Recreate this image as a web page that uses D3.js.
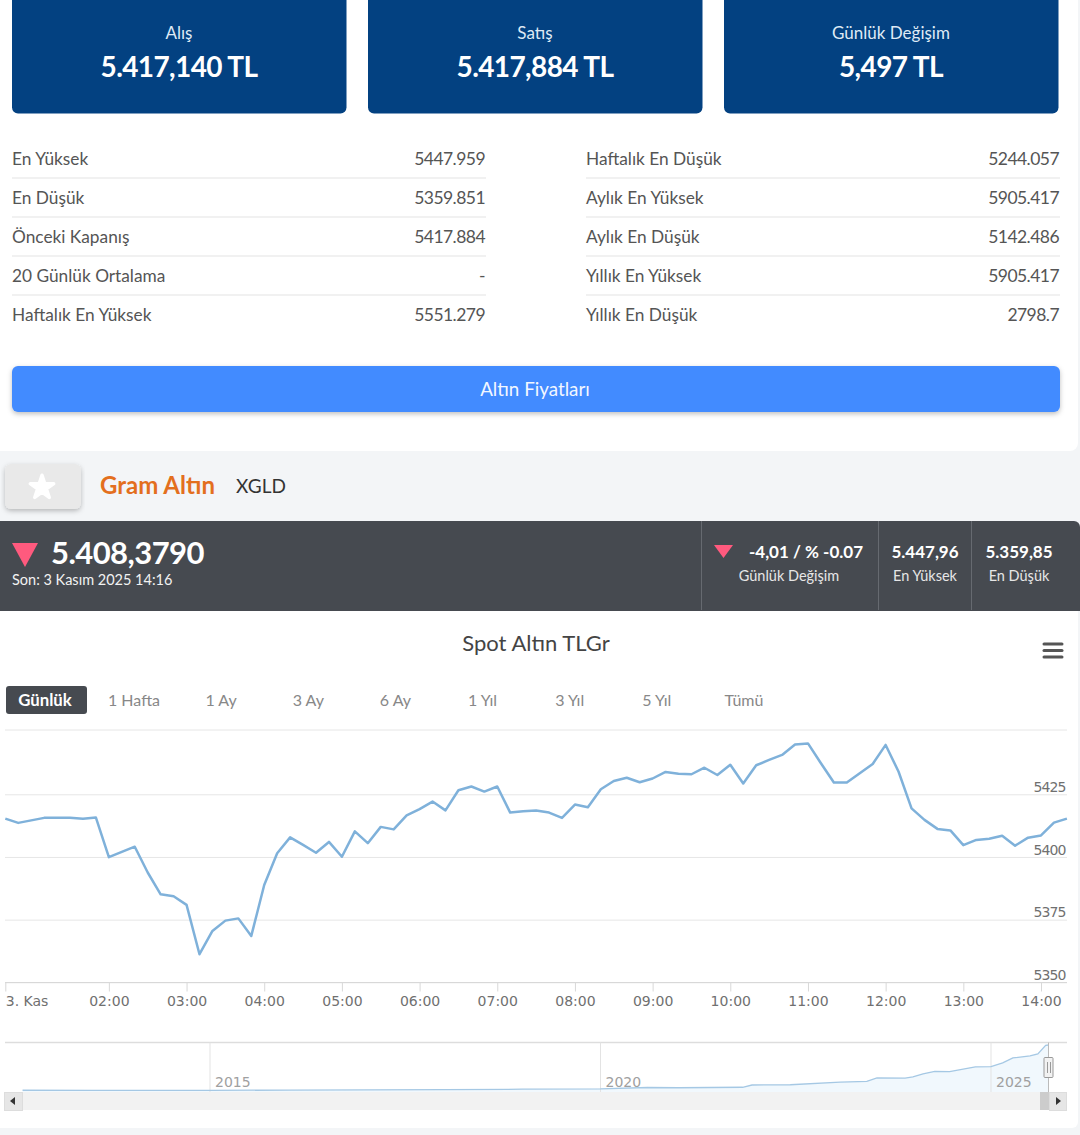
<!DOCTYPE html>
<html lang="tr">

<head>
    <meta charset="UTF-8">
    <title>Spot Altın TLGr</title>
    <script src="https://d3js.org/d3.v7.min.js"></script>
    <style>
        html, body {
            margin: 0;
            background: #f3f5f7;
        }

        svg {
            display: block;
        }

        svg text {
            font-family: Lato, sans-serif;
        }

        .axis text, text.nav-year {
            font-family: "DejaVu Sans", sans-serif;
            font-size: 14px;
            fill: #707070;
        }

        text.nav-year {
            fill: #a0a0a0;
        }

        .axis .domain {
            display: none;
        }
    </style>
</head>

<body>
    <svg width="1080" height="1135"></svg>
    <script>
        // top tiles
        const tileLabels = ['Alış', 'Satış', 'Günlük Değişim'];
        const tileValues = ['5.417,140 TL', '5.417,884 TL', '5,497 TL'];

        // stats table
        const leftNames = ['En Yüksek', 'En Düşük', 'Önceki Kapanış', '20 Günlük Ortalama', 'Haftalık En Yüksek'];
        const leftValues = ['5447.959', '5359.851', '5417.884', '-', '5551.279'];
        const rightNames = ['Haftalık En Düşük', 'Aylık En Yüksek', 'Aylık En Düşük', 'Yıllık En Yüksek', 'Yıllık En Düşük'];
        const rightValues = ['5244.057', '5905.417', '5142.486', '5905.417', '2798.7'];

        // range selector
        const rangeLabels = ['1 Hafta', '1 Ay', '3 Ay', '6 Ay', '1 Yıl', '3 Yıl', '5 Yıl', 'Tümü'];

        // main series, one reading every 10 minutes starting at 00:40
        const prices = [
            5415.3, 5413.6, 5414.6, 5415.6, 5415.6, 5415.6, 5415.2, 5415.7,
            5399.9, 5402.0, 5404.1, 5393.8, 5385.1, 5384.3, 5380.9, 5361.2,
            5370.5, 5374.6, 5375.5, 5368.5, 5388.8, 5401.5, 5407.8, 5404.8,
            5401.7, 5406.0, 5400.1, 5410.2, 5405.5, 5412.0, 5411.0, 5416.6,
            5419.1, 5422.1, 5418.6, 5426.6, 5428.1, 5426.1, 5428.1, 5417.7,
            5418.2, 5418.5, 5417.7, 5415.6, 5420.9, 5419.8, 5427.0, 5430.3,
            5431.6, 5429.8, 5431.3, 5433.9, 5433.2, 5433.0, 5435.6, 5432.7,
            5436.8, 5429.3, 5436.6, 5438.7, 5440.7, 5444.9, 5445.3, 5437.4,
            5429.7, 5429.7, 5433.4, 5437.1, 5444.7, 5434.0, 5419.4, 5414.8,
            5411.2, 5410.6, 5404.7, 5406.8, 5407.3, 5408.5, 5404.5, 5407.7,
            5408.6, 5413.7, 5415.3
        ];
        const yTicks = [5350, 5375, 5400, 5425];
        const xTickHours = [2, 3, 4, 5, 6, 7, 8, 9, 10, 11, 12, 13, 14];

        // navigator series: year, price
        const navYears = [2012.6, 2013.5, 2015, 2016, 2017, 2018, 2019, 2020, 2020.6, 2021, 2021.82, 2021.94, 2022.43,
            2023.07, 2023.41, 2023.54, 2023.9, 2024.0, 2024.13, 2024.28, 2024.47, 2024.8, 2025.0, 2025.15, 2025.28,
            2025.5, 2025.6, 2025.7, 2025.74];
        const navPrices = [95, 90, 85, 110, 140, 170, 230, 280, 450, 420, 480, 770, 800,
            1130, 1230, 1680, 1650, 1800, 2200, 2530, 2500, 3100, 3120, 3600, 4240,
            4500, 4750, 5850, 5905];
        const navTicks = [2015, 2020, 2025];

        const svg = d3.select('svg');

        // a small helper, most of the page is plain text
        function label(parent, x, y, str, size, color, anchor, weight) {
            return parent.append('text')
                .attr('x', x)
                .attr('y', y)
                .attr('dy', '0.35em')
                .attr('text-anchor', anchor || 'start')
                .attr('font-size', size)
                .attr('font-weight', weight || 400)
                .attr('fill', color)
                .text(str);
        }

        const defs = svg.append('defs');
        const shadow = defs.append('filter').attr('id', 'shadow').attr('x', '-5%').attr('y', '-20%').attr('width', '110%').attr('height', '150%');
        shadow.append('feDropShadow').attr('dx', 0).attr('dy', 2).attr('stdDeviation', 2.5).attr('flood-color', '#000').attr('flood-opacity', 0.25);

        // page sections, left corners are square so they start off screen
        svg.append('rect').attr('x', -10).attr('y', -10).attr('width', 1088).attr('height', 461).attr('rx', 8).attr('fill', '#fff');
        svg.append('rect').attr('x', -10).attr('y', 604).attr('width', 1088).attr('height', 524).attr('rx', 6).attr('fill', '#fff');
        svg.append('rect').attr('x', -10).attr('y', 521).attr('width', 1090).attr('height', 90).attr('rx', 6).attr('fill', '#464a50');
        svg.append('rect').attr('x', 0).attr('y', 600).attr('width', 1080).attr('height', 11).attr('fill', '#464a50');

        // tiles
        const tileX = [12, 368, 724];
        tileX.forEach((x, i) => {
            svg.append('rect').attr('x', x).attr('y', -10).attr('width', 334.5).attr('height', 123.5).attr('rx', 6).attr('fill', '#034181');
            label(svg, x + 167, 33, tileLabels[i], 17, '#dfeaf5', 'middle');
            label(svg, x + 167, 67, tileValues[i], 28, '#fff', 'middle', 700).attr('letter-spacing', -0.6);
        });

        // stats table
        const rowY = d3.scalePoint().domain(d3.range(5)).range([158, 314]);
        function table(x0, x1, names, values) {
            names.forEach((name, i) => {
                label(svg, x0, rowY(i) + 0.7, name, 17.3, '#555');
                label(svg, x1 - 1, rowY(i) + 0.7, values[i], 17.5, '#555', 'end').attr('letter-spacing', -0.55);
                if (i < 4) {
                    svg.append('line').attr('x1', x0).attr('x2', x1).attr('y1', rowY(i) + 20).attr('y2', rowY(i) + 20).attr('stroke', '#e3e3e3');
                }
            });
        }
        table(12, 486, leftNames, leftValues);
        table(586, 1060, rightNames, rightValues);

        // button
        svg.append('rect').attr('x', 12).attr('y', 366).attr('width', 1048).attr('height', 46).attr('rx', 6)
            .attr('fill', '#428bff').attr('filter', 'url(#shadow)');
        label(svg, 535, 389, 'Altın Fiyatları', 18.8, '#f2f7ff', 'middle');

        // favourite button and name
        svg.append('rect').attr('x', 5).attr('y', 464).attr('width', 76).attr('height', 45).attr('rx', 6)
            .attr('fill', '#e9e9e9').attr('filter', 'url(#shadow)');
        svg.append('path').attr('transform', 'translate(42,487.5)').attr('fill', '#fff')
            .attr('stroke', '#fff').attr('stroke-width', 3.5).attr('stroke-linejoin', 'round')
            .attr('d', d3.symbol(d3.symbolStar, 170)());
        label(svg, 100, 486, 'Gram Altın', 24, '#e36f1e', 'start', 700);
        label(svg, 236, 486, 'XGLD', 19, '#333');

        // quote bar
        const downPink = '#ff5a7e';
        svg.append('path').attr('d', 'M12 543H38L25 567Z').attr('fill', downPink);
        label(svg, 51, 553, '5.408,3790', 31, '#fff', 'start', 700).attr('letter-spacing', -0.55);
        label(svg, 12, 580, 'Son: 3 Kasım 2025 14:16', 14.5, '#f2f2f2');
        [701, 878, 971].forEach(x => {
            svg.append('line').attr('x1', x + 0.5).attr('x2', x + 0.5).attr('y1', 521).attr('y2', 610).attr('stroke', '#666a70');
        });
        svg.append('path').attr('d', 'M714 545H733L723.5 558Z').attr('fill', downPink);
        label(svg, 806, 552, '-4,01 / % -0.07', 17, '#fff', 'middle', 700);
        label(svg, 789, 576, 'Günlük Değişim', 14.5, '#e6e6e6', 'middle');
        label(svg, 925, 552, '5.447,96', 17, '#fff', 'middle', 700);
        label(svg, 925, 576, 'En Yüksek', 14.5, '#e6e6e6', 'middle');
        label(svg, 1019, 552, '5.359,85', 17, '#fff', 'middle', 700);
        label(svg, 1019, 576, 'En Düşük', 14.5, '#e6e6e6', 'middle');

        // chart title and menu
        label(svg, 536, 643, 'Spot Altın TLGr', 22, '#444', 'middle');
        [644, 650.5, 657].forEach(y => {
            svg.append('line').attr('x1', 1044).attr('x2', 1062).attr('y1', y).attr('y2', y)
                .attr('stroke', '#555').attr('stroke-width', 3).attr('stroke-linecap', 'round');
        });

        // range selector
        svg.append('rect').attr('x', 6).attr('y', 686).attr('width', 81).attr('height', 28).attr('rx', 3).attr('fill', '#464a50');
        label(svg, 45, 700.5, 'Günlük', 16.8, '#fff', 'middle', 700);
        const rangeX = d3.scalePoint().domain(rangeLabels).range([134, 744]);
        rangeLabels.forEach(d => label(svg, rangeX(d), 700.5, d, 16, '#888', 'middle'));

        // main chart scales
        const startTime = new Date(2025, 10, 3, 0, 40);
        const timeAt = i => new Date(startTime.getTime() + i * 600000);
        const x = d3.scaleTime().domain([startTime, new Date(2025, 10, 3, 14, 20)]).range([5.3, 1066.9]);
        const y = d3.scaleLinear().domain([5350, 5425]).range([982.3, 794.3]);

        // top border of the plot
        svg.append('line').attr('x1', 5).attr('x2', 1067).attr('y1', 730).attr('y2', 730).attr('stroke', '#e6e6e6');

        // y axis, labels sit on top of the grid lines at the right
        const yAxis = svg.append('g')
            .attr('class', 'axis')
            .attr('transform', 'translate(1067,0)')
            .call(d3.axisRight(y).tickValues(yTicks).tickSize(-1062).tickFormat(d3.format('d')));
        yAxis.selectAll('line').attr('stroke', '#e6e6e6');
        yAxis.selectAll('text').attr('x', -0.5).attr('dy', '-0.2em').attr('text-anchor', 'end').attr('textLength', 33);

        // x axis
        const xTicks = [startTime].concat(xTickHours.map(h => new Date(2025, 10, 3, h, 0)));
        const xAxis = svg.append('g')
            .attr('class', 'axis')
            .attr('transform', 'translate(0,982.5)')
            .call(d3.axisBottom(x).tickValues(xTicks).tickSize(9).tickPadding(5)
                .tickFormat(d => d === startTime ? '3. Kas' : d3.timeFormat('%H:%M')(d)));
        xAxis.selectAll('line').attr('stroke', '#d8d8d8');
        xAxis.selectAll('text').filter(d => d === startTime).attr('text-anchor', 'start');
        svg.append('line').attr('x1', 5).attr('x2', 1067).attr('y1', 982.5).attr('y2', 982.5).attr('stroke', '#d8d8d8');

        // price line
        const line = d3.line().x((d, i) => x(timeAt(i))).y(d => y(d));
        svg.append('path')
            .datum(prices)
            .attr('d', line)
            .attr('fill', 'none')
            .attr('stroke', '#7fb1da')
            .attr('stroke-width', 2.5)
            .attr('stroke-linejoin', 'round');

        // navigator
        const navX = d3.scaleLinear().domain([2015, 2025]).range([210, 991]);
        const navY = d3.scaleLinear().domain([0, 5905]).range([1091, 1045]);
        const navTop = 1042.5, navBottom = 1092;

        svg.append('line').attr('x1', 5).attr('x2', 1067).attr('y1', navTop).attr('y2', navTop).attr('stroke', '#ddd').attr('stroke-width', 1.5);
        const navPoints = navYears.map((t, i) => [t, navPrices[i]]);
        svg.append('path')
            .datum(navPoints)
            .attr('d', d3.area().x(d => navX(d[0])).y0(navBottom).y1(d => navY(d[1])))
            .attr('fill', '#eef6fc')
            .attr('fill-opacity', 0.8);
        navTicks.forEach(t => {
            svg.append('line').attr('x1', navX(t)).attr('x2', navX(t)).attr('y1', navTop).attr('y2', navBottom).attr('stroke', '#e3e3e3');
            label(svg, navX(t) + 5, 1082, t, 14, '#a0a0a0').attr('class', 'nav-year');
        });
        svg.append('path')
            .datum(navPoints)
            .attr('d', d3.line().x(d => navX(d[0])).y(d => navY(d[1])))
            .attr('fill', 'none')
            .attr('stroke', '#a5c8e4')
            .attr('stroke-width', 1.3);

        // scrollbar under the navigator
        svg.append('rect').attr('x', 5).attr('y', 1092).attr('width', 1062).attr('height', 18).attr('fill', '#f2f2f2');
        svg.append('rect').attr('x', 1040).attr('y', 1092).attr('width', 10).attr('height', 18).attr('fill', '#ccc');
        svg.append('rect').attr('x', 4.5).attr('y', 1092.5).attr('width', 18).attr('height', 18).attr('fill', '#e6e6e6').attr('stroke', '#ddd');
        svg.append('rect').attr('x', 1049.5).attr('y', 1092.5).attr('width', 17).attr('height', 18).attr('fill', '#e6e6e6').attr('stroke', '#ddd');
        svg.append('path').attr('d', 'M15 1097V1105L10 1101Z').attr('fill', '#333');
        svg.append('path').attr('d', 'M1056 1097V1105L1061 1101Z').attr('fill', '#333');

        // navigator handle
        svg.append('line').attr('x1', 1048.5).attr('x2', 1048.5).attr('y1', navTop).attr('y2', navBottom).attr('stroke', '#bbb');
        svg.append('rect').attr('x', 1044).attr('y', 1057.5).attr('width', 9).attr('height', 20).attr('rx', 1).attr('fill', '#f2f2f2').attr('stroke', '#999');
        [1047, 1050].forEach(v => {
            svg.append('line').attr('x1', v + 0.5).attr('x2', v + 0.5).attr('y1', 1062).attr('y2', 1073).attr('stroke', '#999');
        });
    </script>
</body>

</html>
